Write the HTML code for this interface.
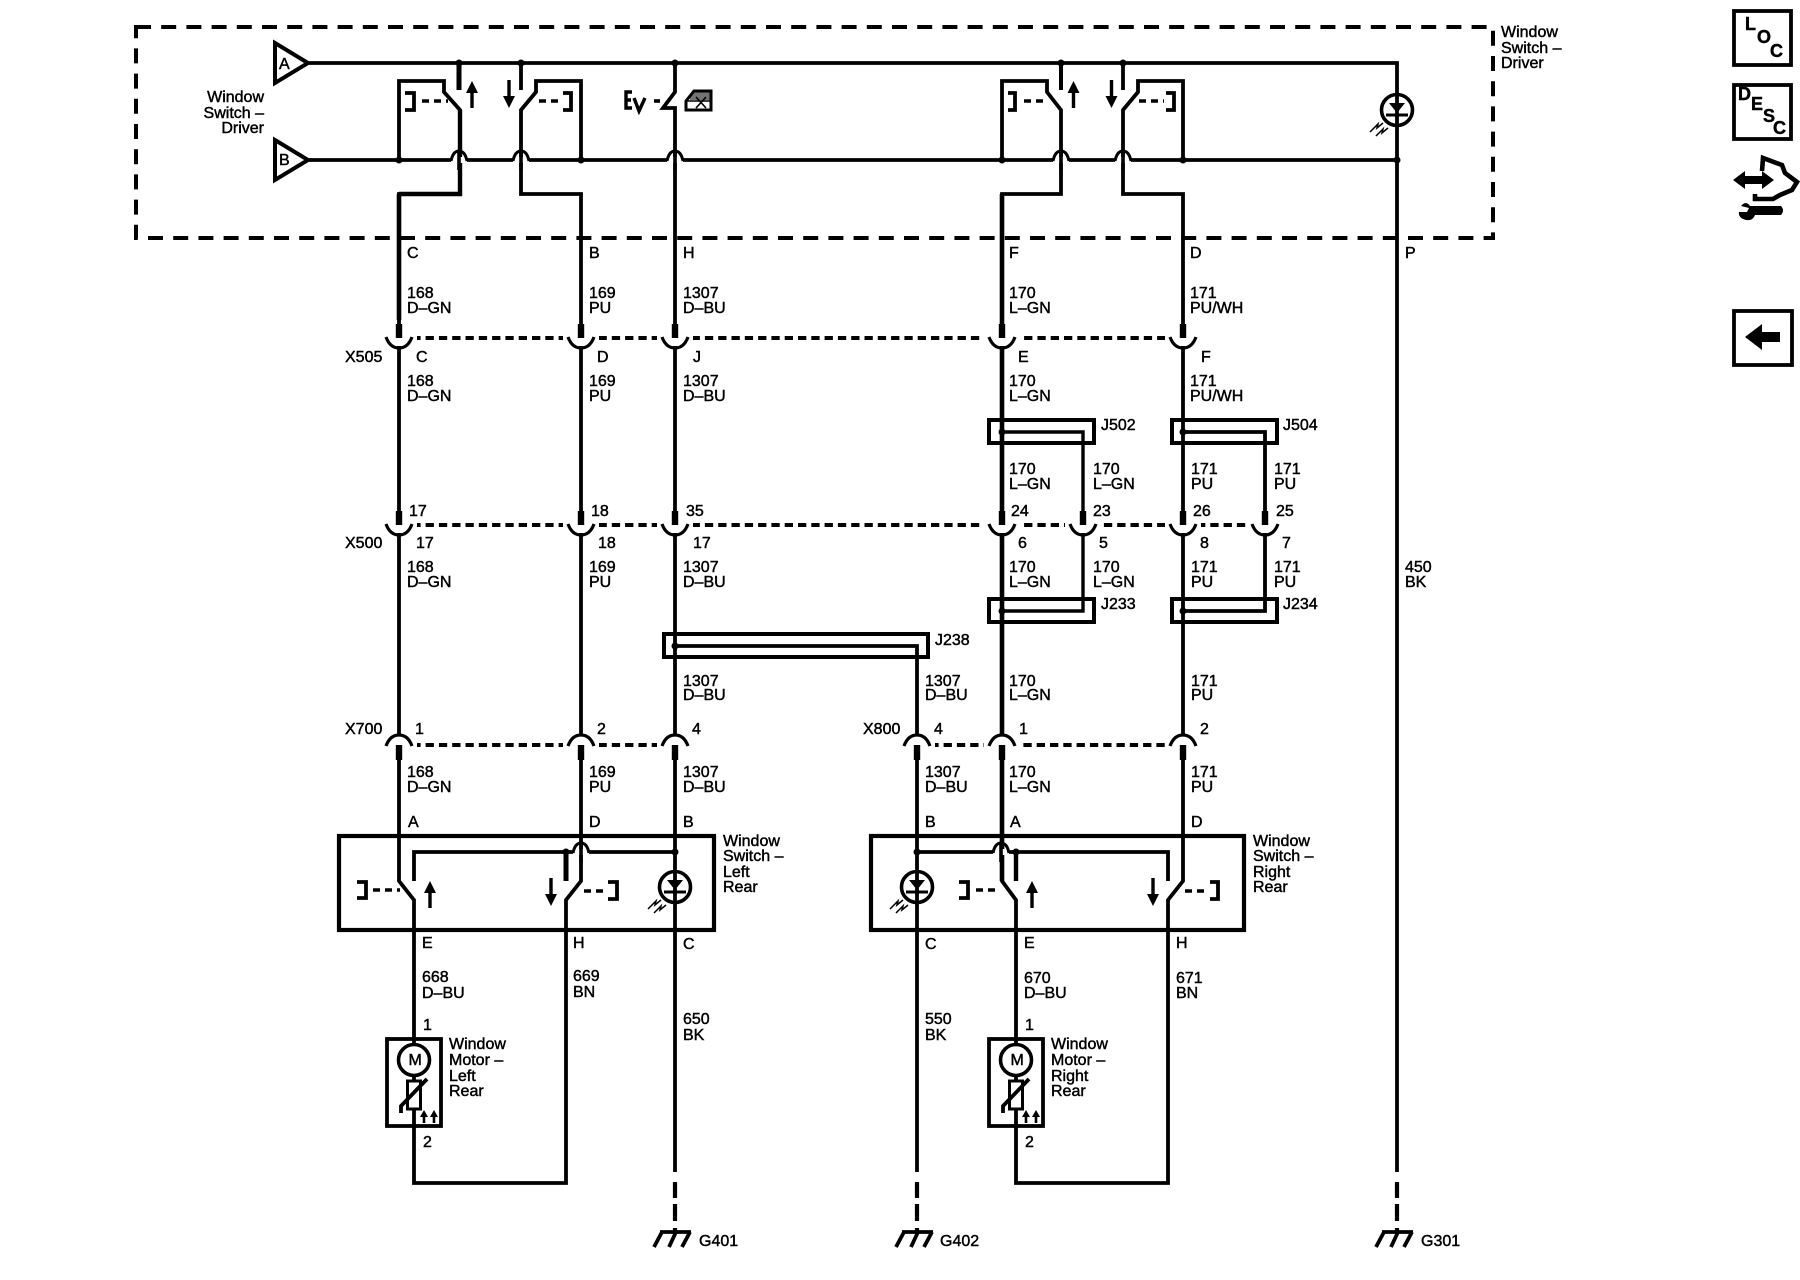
<!DOCTYPE html>
<html><head><meta charset="utf-8"><title>Window Switch Schematic</title>
<style>html,body{margin:0;padding:0;background:#fff}svg{display:block}text{font-family:"Liberation Sans",sans-serif;font-size:16px;fill:#000;stroke:#000;stroke-width:.45}</style></head>
<body>
<svg width="1800" height="1280" viewBox="0 0 1800 1280" xmlns="http://www.w3.org/2000/svg">
<defs>
<g id="u"><rect x="-18" y="-3" width="36" height="6" fill="#fff"/><rect x="-11" y="-3" width="22" height="11" fill="#fff"/><rect x="-3.2" y="-14" width="6.4" height="14"/><path d="M-13,-1 Q-9,10 0,10 Q9,10 13,-1" fill="none" stroke="#000" stroke-width="3.2"/></g>
<g id="n"><rect x="-18" y="-3" width="36" height="6" fill="#fff"/><rect x="-11" y="-9" width="22" height="9" fill="#fff"/><rect x="-3.2" y="0" width="6.4" height="15"/><path d="M-13,1 Q-9,-10 0,-10 Q9,-10 13,1" fill="none" stroke="#000" stroke-width="3.2"/></g>
<g id="h"><rect x="-8" y="-3" width="16" height="6" fill="#fff"/><path d="M-8,1 Q-6,-9 0,-9 Q6,-9 8,1" fill="none" stroke="#000" stroke-width="3"/><path d="M0,-10V10" stroke="#000" stroke-width="3.6"/></g>
<g id="au"><path d="M0,8V27" stroke="#000" stroke-width="3.4"/><path d="M0,0L-6,12H6Z"/></g>
<g id="ad"><path d="M0,0V19" stroke="#000" stroke-width="3.4"/><path d="M0,28L-6,16H6Z"/></g>
<g id="led"><circle r="15.5" fill="none" stroke="#000" stroke-width="3.6"/><path d="M-8,-7H8L0,3Z"/><path d="M-11,5H11" stroke="#000" stroke-width="3"/><path d="M-14,13L-20,18L-19,14L-27,22M-9,18L-15,23L-14,19L-21,26" fill="none" stroke="#000" stroke-width="1.5"/></g>
<g id="gnd"><path d="M-15,1H16M-13,1L-21,16M1,1L-6,16M15,1L7,16" fill="none" stroke="#000" stroke-width="3.8"/></g>
<g id="mot"><circle cy="21" r="15.5" fill="#fff" stroke="#000" stroke-width="3.6"/><path d="M0,37V42" stroke="#000" stroke-width="3"/><rect x="-6.5" y="42" width="13" height="28" fill="#fff" stroke="#000" stroke-width="3"/><path d="M-13,74V67L13,40" fill="none" stroke="#000" stroke-width="3.8"/><path d="M10,84V75M20,84V75" stroke="#000" stroke-width="2.6"/><path d="M10,71L6,78H14ZM20,71L16,78H24Z"/></g>
</defs>

<!-- outer dashed box -->
<rect x="136" y="27" width="1357" height="211" fill="none" stroke="#000" stroke-width="4" stroke-dasharray="15 10.2"/>

<!-- connector dashed lines -->
<g stroke="#000" stroke-width="4" stroke-dasharray="8.300 5" fill="none">
<path d="M399,338H1183"/><path d="M399,525H1265"/><path d="M399,745H675"/><path d="M917,745H1183"/>
</g>

<!-- wires -->
<g fill="none" stroke="#000" stroke-width="3.8" stroke-linejoin="miter">
<path d="M309,63H1397V1172"/><path d="M309,160H1397"/>
<!-- left driver switch -->
<path d="M459,63V90" stroke-width="5"/>
<path d="M399,160V81H444V92L460,110V194H399V881L414,900V1183H566V900L581,881V194H521V110L536,92V81H581V160"/>
<path d="M399,194V320" stroke-width="4.6"/><path d="M460,110V194H399" stroke-width="4.4"/>
<path d="M521,63V90"/>
<!-- H wire -->
<path d="M675,63V92L663,108H675V1172"/>
<!-- right driver switch -->
<path d="M1061,63V90" stroke-width="4"/>
<path d="M1002,160V81H1047V92L1061,110V194H1002V881L1016,900V1183H1168V900L1183,881V194H1123V110L1138,92V81H1183V160"/>
<path d="M1002,194V881" stroke-width="4.6"/>
<path d="M1123,63V90"/>
<!-- jumpers -->
<path d="M1002,432H1083V611H1002" stroke-width="3.4"/><path d="M1183,432H1265V611H1183" stroke-width="3.8"/>
<path d="M675,646H917V1172"/>
<!-- ground dashes -->
<path d="M675,1172V1232M917,1172V1232M1397,1172V1232" stroke-width="4.2" stroke-dasharray="0 10 16 6 17 7 5 5" />
<!-- J boxes -->
<g stroke-width="4"><rect x="989" y="420" width="105" height="23"/><rect x="1172" y="420" width="105" height="23"/><rect x="989" y="599" width="105" height="23"/><rect x="1172" y="599" width="105" height="23"/><rect x="664" y="634" width="264" height="23"/></g>
<!-- rear switch boxes -->
<g stroke-width="4.2"><rect x="339" y="836" width="375" height="94"/><rect x="871" y="836" width="373" height="94"/></g>
<path d="M414,881V852H675"/><path d="M566,881V852" stroke-width="5"/>
<path d="M917,852H1168V881"/><path d="M1016,881V852" stroke-width="4.4"/>
<!-- brackets and dash links -->
<g stroke-width="3.8">
<path d="M405,93H414V110H405"/><path d="M563,93H571V110H563"/><path d="M1008,93H1015V110H1008"/><path d="M1166,93H1174V110H1166"/>
<path d="M357,882H366V898H357"/><path d="M608,882H617V899H608"/><path d="M959,882H968V898H959"/><path d="M1210,882H1218V899H1210"/>
</g>
<g stroke-width="3.6" stroke-dasharray="7 5">
<path d="M422,101H448"/><path d="M539,101H562"/><path d="M1024,101H1048"/><path d="M1139,101H1164"/>
<path d="M373,890H400"/><path d="M584,891H607"/><path d="M976,890H998"/><path d="M1185,891H1208"/>
</g>
</g>

<!-- hump crossings -->
<use href="#h" x="459" y="160"/><use href="#h" x="521" y="160"/><use href="#h" x="675" y="160"/><use href="#h" x="1061" y="160"/><use href="#h" x="1123" y="160"/>
<use href="#h" x="581" y="852"/><use href="#h" x="1001" y="852"/>

<!-- dots -->
<g>
<circle cx="459" cy="63" r="3.5"/><circle cx="521" cy="63" r="3.5"/><circle cx="675" cy="63" r="3.5"/><circle cx="1061" cy="63" r="3.5"/><circle cx="1123" cy="63" r="3.5"/>
<circle cx="399" cy="160" r="3.5"/><circle cx="581" cy="160" r="3.5"/><circle cx="1002" cy="160" r="3.5"/><circle cx="1183" cy="160" r="3.5"/><circle cx="1397" cy="160" r="3.5"/>
<circle cx="1002" cy="432" r="3.5"/><circle cx="1183" cy="432" r="3.5"/><circle cx="1002" cy="611" r="3.5"/><circle cx="1183" cy="611" r="3.5"/><circle cx="675" cy="646" r="3.5"/>
<circle cx="566" cy="852" r="3.5"/><circle cx="675" cy="852" r="3.5"/><circle cx="917" cy="852" r="3.5"/><circle cx="1016" cy="852" r="3.5"/>
</g>

<!-- connectors -->
<use href="#u" x="399" y="338"/><use href="#u" x="581" y="338"/><use href="#u" x="675" y="338"/><use href="#u" x="1002" y="338"/><use href="#u" x="1183" y="338"/>
<use href="#u" x="399" y="525"/><use href="#u" x="581" y="525"/><use href="#u" x="675" y="525"/><use href="#u" x="1002" y="525"/><use href="#u" x="1083" y="525"/><use href="#u" x="1183" y="525"/><use href="#u" x="1265" y="525"/>
<use href="#n" x="399" y="745"/><use href="#n" x="581" y="745"/><use href="#n" x="675" y="745"/><use href="#n" x="917" y="745"/><use href="#n" x="1002" y="745"/><use href="#n" x="1183" y="745"/>

<!-- arrows -->
<use href="#au" x="472" y="81"/><use href="#ad" x="509" y="80"/><use href="#au" x="1073.5" y="81"/><use href="#ad" x="1111.5" y="80"/>
<use href="#au" x="430" y="881"/><use href="#ad" x="551" y="878"/><use href="#au" x="1032" y="881"/><use href="#ad" x="1153" y="878"/>

<!-- LEDs -->
<use href="#led" x="1397" y="110"/><use href="#led" x="675" y="887"/><use href="#led" x="917" y="887"/>

<!-- input triangles -->
<g fill="#fff" stroke="#000" stroke-width="4"><path d="M275,43L308,63L275,83Z"/><path d="M275,140L308,160L275,180Z"/></g>

<!-- EV + icon -->
<path d="M632,92H626V108H632M626,100H631M634,98L639,111L645,98" fill="none" stroke="#000" stroke-width="3.4"/>
<path d="M654,101H660" stroke="#000" stroke-width="3.6"/>
<path d="M686,101L694,91H711V110H686Z" fill="none" stroke="#000" stroke-width="3"/><path d="M686,101H711M696,97L706,108M706,97L696,108" fill="none" stroke="#000" stroke-width="1.6"/><path d="M690,96L694,92H710V100H690Z" fill="#000" opacity=".55"/>

<!-- motors -->
<g fill="none" stroke="#000" stroke-width="3.8"><rect x="387" y="1039" width="54" height="87"/><rect x="989" y="1039" width="54" height="87"/></g>
<use href="#mot" x="414" y="1039"/><use href="#mot" x="1016" y="1039"/>

<!-- grounds -->
<use href="#gnd" x="675" y="1231"/><use href="#gnd" x="917" y="1231"/><use href="#gnd" x="1397" y="1231"/>

<!-- right side icons -->
<g fill="none" stroke="#000" stroke-width="3.8"><rect x="1734" y="11" width="57" height="54"/><rect x="1734" y="85" width="57" height="54"/><rect x="1734" y="311" width="58" height="54"/></g>
<path d="M1745,337L1762,324V332H1780V342H1762V350Z"/>
<path d="M1733,180L1745,171V176H1762V171L1774,180L1762,189V184H1745V189Z"/>
<path d="M1762,171L1763,158L1782,165L1785,173L1797,182L1792,190L1780,195L1773,199H1755V194" fill="none" stroke="#000" stroke-width="4.6"/>
<path d="M1750,206H1781Q1785,210.500 1781,215H1755Q1753,221 1746,220Q1738,218 1739,212L1747,212L1749,208L1741,206Q1746,200 1750,206Z"/>
<g style="font-weight:bold;font-size:18px">
<text x="1745" y="30" style="font-size:18px">L</text><text x="1757" y="43" style="font-size:18px">O</text><text x="1770" y="57" style="font-size:18px">C</text>
<text x="1738" y="100" style="font-size:18px">D</text><text x="1751" y="110" style="font-size:18px">E</text><text x="1763" y="122" style="font-size:18px">S</text><text x="1773" y="134" style="font-size:18px">C</text>
</g>

<!-- text labels -->
<g>
<text x="279" y="69">A</text><text x="279" y="165">B</text>
<g text-anchor="end"><text x="264" y="102">Window</text><text x="264" y="118">Switch –</text><text x="264" y="133">Driver</text></g>
<text x="1501" y="37">Window</text><text x="1501" y="53">Switch –</text><text x="1501" y="68">Driver</text>

<text x="407" y="258">C</text><text x="589" y="258">B</text><text x="683" y="258">H</text><text x="1009" y="258">F</text><text x="1190" y="258">D</text><text x="1405" y="258">P</text>

<text x="407" y="298">168</text><text x="407" y="313">D–GN</text><text x="589" y="298">169</text><text x="589" y="313">PU</text><text x="683" y="298">1307</text><text x="683" y="313">D–BU</text><text x="1009" y="298">170</text><text x="1009" y="313">L–GN</text><text x="1190" y="298">171</text><text x="1190" y="313">PU/WH</text>

<text x="345" y="362">X505</text><text x="416" y="362">C</text><text x="597" y="362">D</text><text x="693" y="362">J</text><text x="1018" y="362">E</text><text x="1201" y="362">F</text>

<text x="407" y="386">168</text><text x="407" y="401">D–GN</text><text x="589" y="386">169</text><text x="589" y="401">PU</text><text x="683" y="386">1307</text><text x="683" y="401">D–BU</text><text x="1009" y="386">170</text><text x="1009" y="401">L–GN</text><text x="1190" y="386">171</text><text x="1190" y="401">PU/WH</text>

<text x="1101" y="430">J502</text><text x="1283" y="430">J504</text>
<text x="1009" y="474">170</text><text x="1009" y="489">L–GN</text><text x="1093" y="474">170</text><text x="1093" y="489">L–GN</text><text x="1191" y="474">171</text><text x="1191" y="489">PU</text><text x="1274" y="474">171</text><text x="1274" y="489">PU</text>

<text x="409" y="516">17</text><text x="591" y="516">18</text><text x="686" y="516">35</text><text x="1011" y="516">24</text><text x="1093" y="516">23</text><text x="1193" y="516">26</text><text x="1276" y="516">25</text>
<text x="345" y="548">X500</text><text x="416" y="548">17</text><text x="598" y="548">18</text><text x="693" y="548">17</text><text x="1018" y="548">6</text><text x="1099" y="548">5</text><text x="1200" y="548">8</text><text x="1282" y="548">7</text>

<text x="407" y="572">168</text><text x="407" y="587">D–GN</text><text x="589" y="572">169</text><text x="589" y="587">PU</text><text x="683" y="572">1307</text><text x="683" y="587">D–BU</text><text x="1009" y="572">170</text><text x="1009" y="587">L–GN</text><text x="1093" y="572">170</text><text x="1093" y="587">L–GN</text><text x="1191" y="572">171</text><text x="1191" y="587">PU</text><text x="1274" y="572">171</text><text x="1274" y="587">PU</text>

<text x="1101" y="609">J233</text><text x="1283" y="609">J234</text><text x="935" y="645">J238</text>

<text x="683" y="686">1307</text><text x="683" y="700">D–BU</text><text x="925" y="686">1307</text><text x="925" y="700">D–BU</text><text x="1009" y="686">170</text><text x="1009" y="700">L–GN</text><text x="1191" y="686">171</text><text x="1191" y="700">PU</text>

<text x="345" y="734">X700</text><text x="415" y="734">1</text><text x="597" y="734">2</text><text x="692" y="734">4</text><text x="863" y="734">X800</text><text x="934" y="734">4</text><text x="1019" y="734">1</text><text x="1200" y="734">2</text>

<text x="407" y="777">168</text><text x="407" y="792">D–GN</text><text x="589" y="777">169</text><text x="589" y="792">PU</text><text x="683" y="777">1307</text><text x="683" y="792">D–BU</text><text x="925" y="777">1307</text><text x="925" y="792">D–BU</text><text x="1009" y="777">170</text><text x="1009" y="792">L–GN</text><text x="1191" y="777">171</text><text x="1191" y="792">PU</text>

<text x="408" y="827">A</text><text x="589" y="827">D</text><text x="683" y="827">B</text><text x="925" y="827">B</text><text x="1010" y="827">A</text><text x="1191" y="827">D</text>

<text x="723" y="846">Window</text><text x="723" y="861">Switch –</text><text x="723" y="877">Left</text><text x="723" y="892">Rear</text>
<text x="1253" y="846">Window</text><text x="1253" y="861">Switch –</text><text x="1253" y="877">Right</text><text x="1253" y="892">Rear</text>

<text x="422" y="948">E</text><text x="573" y="948">H</text><text x="683" y="949">C</text><text x="925" y="949">C</text><text x="1024" y="948">E</text><text x="1176" y="948">H</text>

<text x="422" y="982">668</text><text x="422" y="998">D–BU</text><text x="573" y="981">669</text><text x="573" y="997">BN</text><text x="1024" y="983">670</text><text x="1024" y="998">D–BU</text><text x="1176" y="983">671</text><text x="1176" y="998">BN</text>
<text x="683" y="1024">650</text><text x="683" y="1040">BK</text><text x="925" y="1024">550</text><text x="925" y="1040">BK</text>
<text x="423" y="1030">1</text><text x="1025" y="1030">1</text><text x="423" y="1147">2</text><text x="1025" y="1147">2</text>

<text x="449" y="1049">Window</text><text x="449" y="1065">Motor –</text><text x="449" y="1081">Left</text><text x="449" y="1096">Rear</text>
<text x="1051" y="1049">Window</text><text x="1051" y="1065">Motor –</text><text x="1051" y="1081">Right</text><text x="1051" y="1096">Rear</text>
<text x="408.500" y="1065">M</text><text x="1010.500" y="1065">M</text>

<text x="1405" y="572">450</text><text x="1405" y="587">BK</text>
<text x="699" y="1246">G401</text><text x="940" y="1246">G402</text><text x="1421" y="1246">G301</text>
</g>
</svg>
</body></html>
